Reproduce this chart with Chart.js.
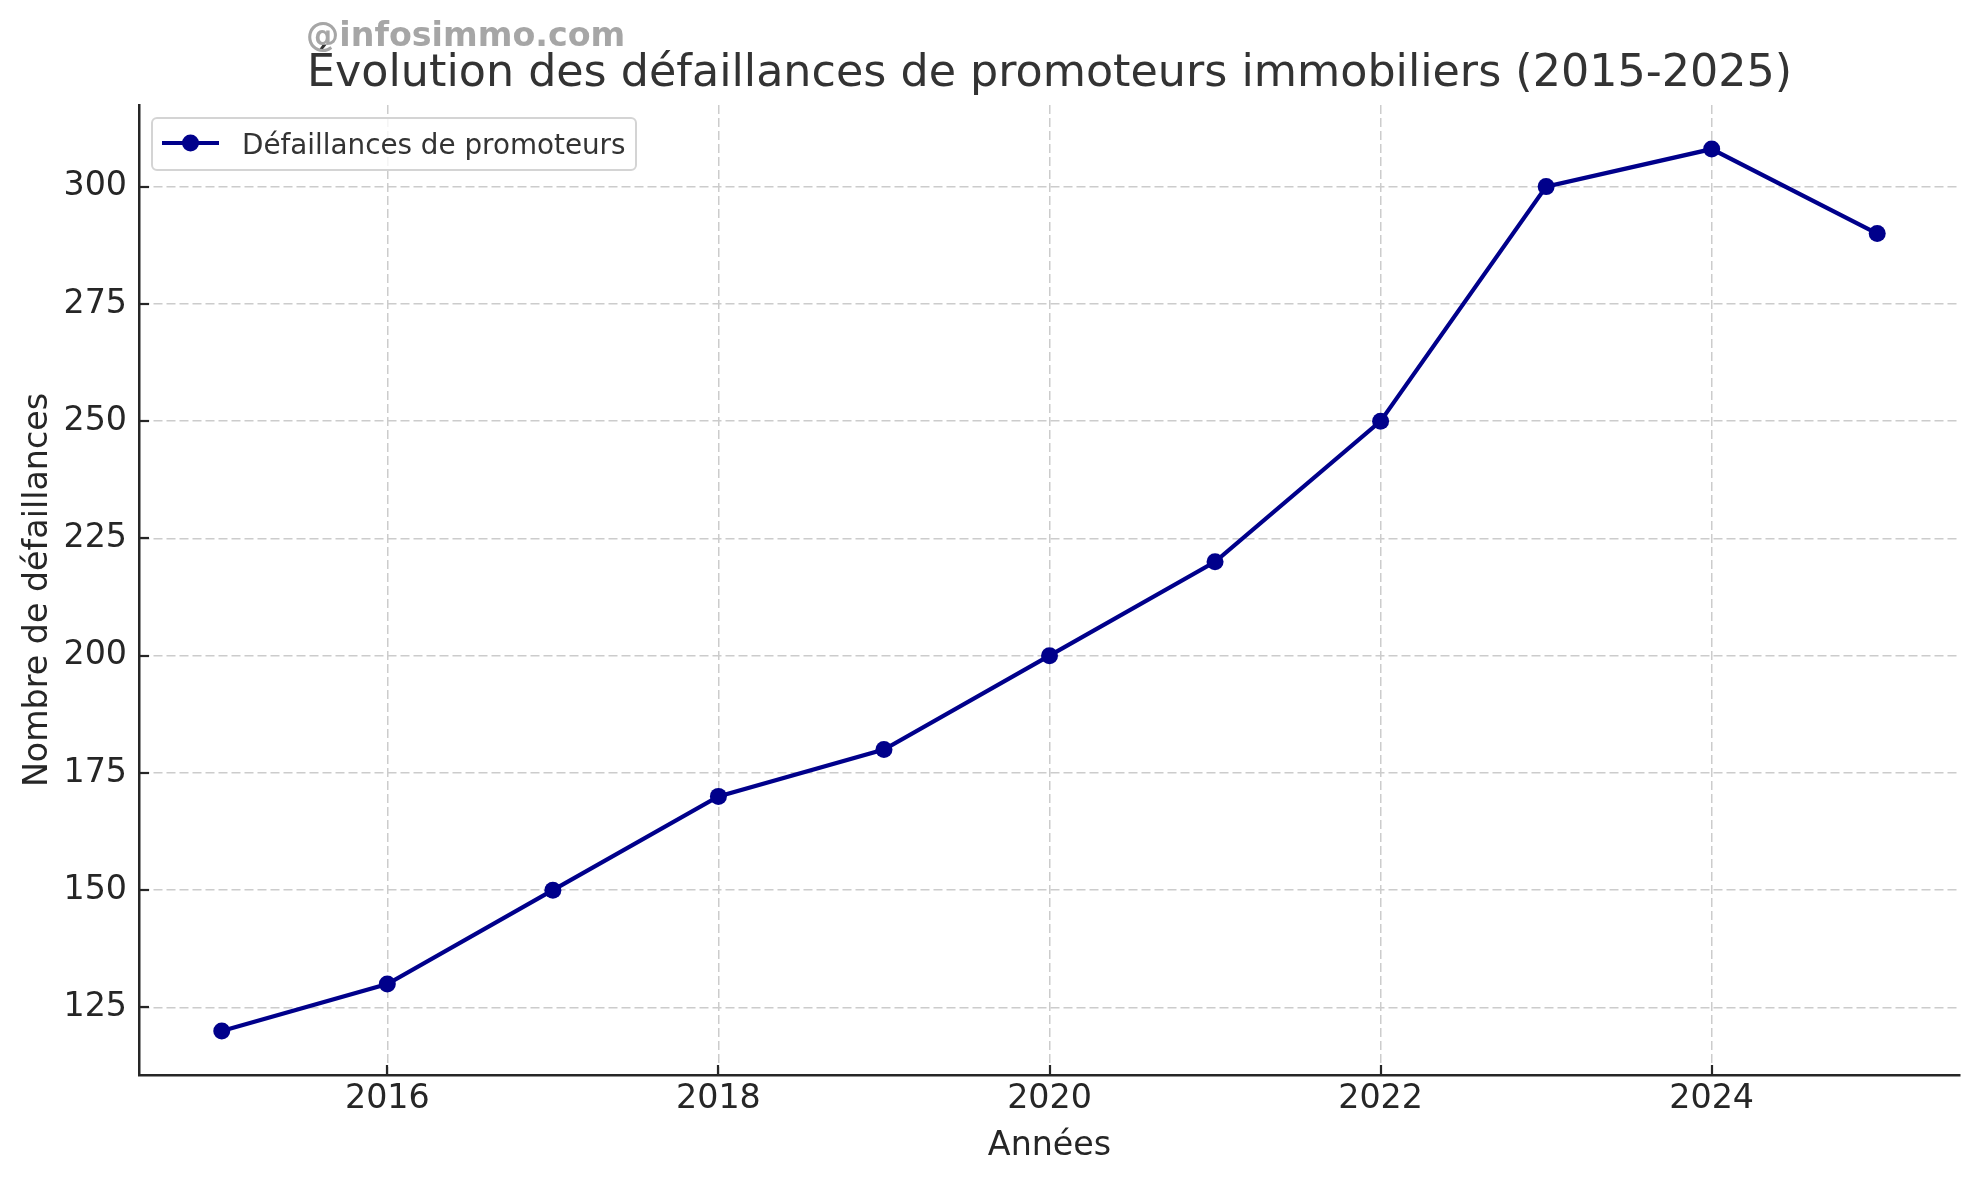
<!DOCTYPE html>
<html>
<head>
<meta charset="utf-8">
<title>Défaillances de promoteurs immobiliers</title>
<script src="https://cdn.jsdelivr.net/npm/chart.js@4.4.0/dist/chart.umd.min.js"></script>
<style>
    body { margin: 0; background: #ffffff; }
    canvas { display: block; }
</style>
</head>
<body>
<canvas id="chart" width="1979" height="1182"></canvas>
<script>
var years = [2015, 2016, 2017, 2018, 2019, 2020, 2021, 2022, 2023, 2024, 2025];
var defaillances = [120, 130, 150, 170, 180, 200, 220, 250, 300, 308, 290];
var xTicks = [2016, 2018, 2020, 2022, 2024];
var yTicks = [125, 150, 175, 200, 225, 250, 275, 300];
var serieLabel = 'Défaillances de promoteurs';
var titre = 'Évolution des défaillances de promoteurs immobiliers (2015-2025)';
var watermark = '@infosimmo.com';
var xTitle = 'Années';
var yTitle = 'Nombre de défaillances';

var lineColor = '#00008b';
var inkColor = '#262626';

// marges "à la matplotlib" (5%)
var yLo = Math.min.apply(null, defaillances), yHi = Math.max.apply(null, defaillances);
var yPad = (yHi - yLo) * 0.05;
var xPad = (years[years.length - 1] - years[0]) * 0.05;

Chart.defaults.font.family = '"DejaVu Sans", sans-serif';

var points = [];
for (var i = 0; i < years.length; i++) {
    points.push({ x: years[i], y: defaillances[i] });
}

var decorPlugin = {
    id: 'decor',
    afterDraw: function (chart) {
        var ctx = chart.ctx;
        var area = chart.chartArea;
        var xs = chart.scales.x;
        var ys = chart.scales.y;
        ctx.save();

        // petits ticks vers l'intérieur
        ctx.strokeStyle = inkColor;
        ctx.lineWidth = 2.2;
        xTicks.forEach(function (v) {
            var px = Math.round(xs.getPixelForValue(v));
            ctx.beginPath();
            ctx.moveTo(px, area.bottom);
            ctx.lineTo(px, area.bottom - 10);
            ctx.stroke();
        });
        yTicks.forEach(function (v) {
            var py = Math.round(ys.getPixelForValue(v));
            ctx.beginPath();
            ctx.moveTo(area.left, py);
            ctx.lineTo(area.left + 10, py);
            ctx.stroke();
        });

        // titre
        ctx.fillStyle = '#333333';
        ctx.font = '44.4px "DejaVu Sans"';
        ctx.textAlign = 'center';
        ctx.textBaseline = 'alphabetic';
        ctx.fillText(titre, (area.left + area.right) / 2, 86);

        // watermark
        ctx.fillStyle = '#a6a6a6';
        ctx.font = 'bold 33.3px "DejaVu Sans"';
        ctx.textAlign = 'left';
        ctx.fillText(watermark, 306, 46);

        // legende
        ctx.beginPath();
        ctx.roundRect(152, 118, 484, 52, 5);
        ctx.fillStyle = 'rgba(255,255,255,0.8)';
        ctx.fill();
        ctx.strokeStyle = '#d4d4d4';
        ctx.lineWidth = 2;
        ctx.stroke();

        ctx.strokeStyle = lineColor;
        ctx.lineWidth = 4.2;
        ctx.beginPath();
        ctx.moveTo(162, 143);
        ctx.lineTo(219, 143);
        ctx.stroke();
        ctx.fillStyle = lineColor;
        ctx.beginPath();
        ctx.arc(190.5, 143, 8.5, 0, Math.PI * 2);
        ctx.fill();

        ctx.fillStyle = '#333333';
        ctx.font = '27.8px "DejaVu Sans"';
        ctx.fillText(serieLabel, 242, 154);

        ctx.restore();
    }
};

var config = {
    type: 'line',
    data: {
        datasets: [{
            label: serieLabel,
            data: points,
            borderColor: lineColor,
            backgroundColor: lineColor,
            borderWidth: 4.2,
            pointRadius: 8.5,
            pointHoverRadius: 8.5,
            pointBorderWidth: 0,
            pointBackgroundColor: lineColor,
            tension: 0,
            fill: false
        }]
    },
    options: {
        responsive: false,
        devicePixelRatio: 1,
        animation: false,
        layout: { padding: { left: 0, top: 105, right: 19, bottom: 0 } },
        plugins: {
            legend: { display: false },
            title: { display: false },
            tooltip: { enabled: false }
        },
        scales: {
            x: {
                type: 'linear',
                min: years[0] - xPad,
                max: years[years.length - 1] + xPad,
                afterBuildTicks: function (scale) {
                    scale.ticks = xTicks.map(function (v) { return { value: v }; });
                },
                afterFit: function (scale) { scale.height = 107; },
                grid: { color: '#cccccc', lineWidth: 1.5, drawTicks: false },
                border: { display: true, color: inkColor, width: 2.5, dash: [9, 4] },
                ticks: {
                    padding: 4,
                    color: inkColor,
                    font: { size: 33.3 },
                    callback: function (v) { return String(v); }
                },
                title: {
                    display: true,
                    text: xTitle,
                    color: inkColor,
                    font: { size: 33.3 },
                    padding: { top: 0, bottom: 16 }
                }
            },
            y: {
                min: yLo - yPad,
                max: yHi + yPad,
                afterBuildTicks: function (scale) {
                    scale.ticks = yTicks.map(function (v) { return { value: v }; });
                },
                afterFit: function (scale) { scale.width = 139; },
                grid: { color: '#cccccc', lineWidth: 1.5, drawTicks: false },
                border: { display: true, color: inkColor, width: 2.5, dash: [9, 4] },
                ticks: {
                    padding: 12,
                    color: inkColor,
                    font: { size: 33.3 },
                    callback: function (v) { return String(v); }
                },
                title: {
                    display: true,
                    text: yTitle,
                    color: inkColor,
                    font: { size: 33.3 },
                    padding: { top: 18, bottom: 0 }
                }
            }
        }
    },
    plugins: [decorPlugin]
};

window.myLine = new Chart(document.getElementById('chart'), config);
</script>
</body>
</html>
